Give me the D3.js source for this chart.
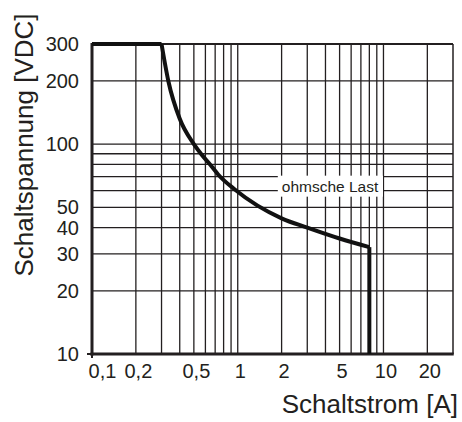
<!DOCTYPE html>
<html>
<head>
<meta charset="utf-8">
<script src="https://cdn.jsdelivr.net/npm/d3@7"></script>
<style>
  html, body { margin: 0; padding: 0; background: #fff; }
  svg { display: block; }
</style>
</head>
<body>
<div id="chart"></div>
<script>
// data
const xTicks = [0.1, 0.2, 0.5, 1, 2, 5, 10, 20];
const xTickLabels = ['0,1', '0,2', '0,5', '1', '2', '5', '10', '20'];
const yTicks = [10, 20, 30, 40, 50, 100, 200, 300];
const xGrid = [0.2, 0.3, 0.4, 0.5, 0.6, 0.7, 0.8, 0.9, 1, 2, 3, 4, 5, 6, 7, 8, 9, 10, 20];
const yGrid = [20, 30, 40, 50, 60, 70, 80, 90, 100, 200];
// Grenzkurve ohmsche Last
const flatI = [0.1, 0.3];
const flatU = [300, 300];
const curveI = [0.3, 0.334, 0.4, 0.5, 0.566, 0.646, 0.736, 0.96, 2, 3, 5, 8];
const curveU = [300, 200, 132, 100, 89, 80, 71.5, 60.6, 44.3, 40, 35.5, 32.3];
const dropI = [8, 8];
const dropU = [32.3, 10];
const loadLabel = 'ohmsche Last';

const W = 462, H = 422;
const ink = '#231f20';
const font = 'Liberation Sans, Arial, sans-serif';

const x = d3.scaleLog().domain([0.1, 30]).range([92, 453]);
const y = d3.scaleLog().domain([10, 300]).range([354, 44]);

const svg = d3.select('#chart').append('svg')
    .attr('width', W)
    .attr('height', H)
    .attr('font-family', font);

// grid
svg.append('g')
    .selectAll('line')
    .data(xGrid)
    .join('line')
    .attr('x1', (d) => x(d)).attr('x2', (d) => x(d))
    .attr('y1', y(10)).attr('y2', y(300))
    .attr('stroke', ink).attr('stroke-width', 1.3);

svg.append('g')
    .selectAll('line')
    .data(yGrid)
    .join('line')
    .attr('x1', x(0.1)).attr('x2', x(30))
    .attr('y1', (d) => y(d)).attr('y2', (d) => y(d))
    .attr('stroke', ink).attr('stroke-width', 1.3);

// frame
svg.append('line')
    .attr('x1', x(0.1)).attr('x2', x(30))
    .attr('y1', y(300)).attr('y2', y(300))
    .attr('stroke', ink).attr('stroke-width', 2);
svg.append('line')
    .attr('x1', x(30)).attr('x2', x(30))
    .attr('y1', y(300)).attr('y2', y(10))
    .attr('stroke', ink).attr('stroke-width', 1.5);

// label box
const lx = x(4.3), ly = y(63);
const lg = svg.append('g');
const lbox = lg.append('rect').attr('fill', '#fff');
const ltext = lg.append('text')
    .attr('x', lx).attr('y', ly)
    .attr('dy', '0.35em')
    .attr('text-anchor', 'middle')
    .attr('font-size', 15.5)
    .attr('fill', ink)
    .text(loadLabel);
const bb = ltext.node().getBBox();
lbox.attr('x', bb.x - 4).attr('y', bb.y - 2)
    .attr('width', bb.width + 8).attr('height', bb.height + 4);

// axes (left / bottom, thick)
svg.append('line')
    .attr('x1', x(0.1)).attr('x2', x(0.1))
    .attr('y1', y(300) - 1).attr('y2', y(10) + 1.5)
    .attr('stroke', ink).attr('stroke-width', 3);
svg.append('line')
    .attr('x1', x(0.1) - 1.5).attr('x2', x(30) + 0.75)
    .attr('y1', y(10)).attr('y2', y(10))
    .attr('stroke', ink).attr('stroke-width', 3);
// corner ticks
svg.append('line')
    .attr('x1', x(0.1) - 5).attr('x2', x(0.1))
    .attr('y1', y(10)).attr('y2', y(10))
    .attr('stroke', ink).attr('stroke-width', 2);
svg.append('line')
    .attr('x1', x(0.1)).attr('x2', x(0.1))
    .attr('y1', y(10)).attr('y2', y(10) + 4)
    .attr('stroke', ink).attr('stroke-width', 2);

// curve
const lineLin = d3.line().x((d) => x(d[0])).y((d) => y(d[1]));
const lineSmooth = d3.line().x((d) => x(d[0])).y((d) => y(d[1]))
    .curve(d3.curveMonotoneX);
const curveG = svg.append('g')
    .attr('fill', 'none').attr('stroke', '#111')
    .attr('stroke-width', 4).attr('stroke-linejoin', 'miter');
curveG.append('path').attr('d', lineLin(d3.zip(flatI, flatU)));
curveG.append('path').attr('d', lineSmooth(d3.zip(curveI, curveU)));
curveG.append('path').attr('d', lineLin(d3.zip(dropI, dropU)));

// tick labels
const yAxis = d3.axisLeft(y).tickValues(yTicks).tickFormat(d3.format('d'))
    .tickSize(0).tickPadding(13);
svg.append('g')
    .attr('transform', `translate(${x(0.1)},0)`)
    .call(yAxis)
    .call((g) => g.select('.domain').remove())
    .selectAll('text')
    .attr('font-size', 20)
    .attr('font-family', font)
    .attr('fill', ink);

const xAxis = d3.axisBottom(x).tickValues(xTicks)
    .tickFormat((d, i) => xTickLabels[i])
    .tickSize(0).tickPadding(10);
svg.append('g')
    .attr('transform', `translate(0,${y(10)})`)
    .call(xAxis)
    .call((g) => g.select('.domain').remove())
    .selectAll('text')
    .attr('font-size', 20)
    .attr('font-family', font)
    .attr('fill', ink)
    .attr('dx', (d, i) => i === 0 ? 10 : 2);

// titles
svg.append('text')
    .attr('transform', 'translate(33,145) rotate(-90)')
    .attr('text-anchor', 'middle')
    .attr('font-size', 26)
    .attr('fill', ink)
    .text('Schaltspannung [VDC]');

svg.append('text')
    .attr('x', 458).attr('y', 413)
    .attr('text-anchor', 'end')
    .attr('font-size', 26)
    .attr('fill', ink)
    .text('Schaltstrom [A]');
</script>
</body>
</html>
